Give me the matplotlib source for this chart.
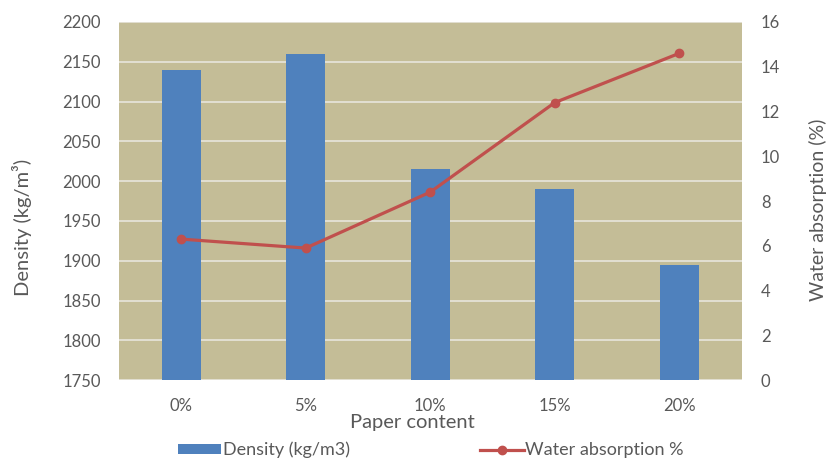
import matplotlib
matplotlib.use("Agg")
from matplotlib import pyplot as plt
import numpy as np

# values
categories = ["0%", "5%", "10%", "15%", "20%"]
density = [2140, 2160, 2015, 1990, 1895]          # kg/m3, left axis
water_abs = [6.3, 5.9, 8.4, 12.4, 14.6]           # %, right axis
density_ticks = list(range(1750, 2201, 50))
water_ticks = list(range(0, 17, 2))

plt.rcParams['font.family'] = ['Lato', 'DejaVu Sans']

bg = '#C4BD97'
blue = '#4F81BD'
red = '#C0504D'
grey = '#595959'

fig = plt.figure(figsize=(8.29, 4.63), dpi=100)
ax = fig.add_axes([0.1435, 0.179, 0.751, 0.7735])
ax.set_facecolor(bg)

x = np.arange(len(categories))
bars = ax.bar(x, density, width=0.31, color=blue, zorder=2, label='Density (kg/m3)')
ax.set_ylim(1750, 2200)
ax.set_xlim(-0.5, len(categories) - 0.5)
ax.set_yticks(density_ticks)
ax.yaxis.grid(True, color='#E2DFD2', linewidth=1.4, zorder=1)
ax.set_axisbelow(True)
ax.set_xticks(x)
ax.set_xticklabels(categories)
ax.tick_params(axis='both', length=0, labelsize=12, colors=grey)
ax.tick_params(axis='y', pad=13)
ax.tick_params(axis='x', pad=13)
ax.set_xlabel('Paper content', fontsize=14.5, color=grey, va='center')
ax.xaxis.set_label_coords(0.471, -0.117)
ax.set_ylabel('Density (kg/m³)', fontsize=14.5, color=grey, va='center')
ax.yaxis.set_label_coords(-0.156, 0.425)
for s in ax.spines.values():
    s.set_visible(False)

ax2 = ax.twinx()
line, = ax2.plot(x, water_abs, color=red, linewidth=2.3, marker='o', markersize=6,
                 label='Water absorption %', zorder=3)
ax2.set_ylim(0, 16)
ax2.set_yticks(water_ticks)
ax2.tick_params(axis='y', length=0, labelsize=12, colors=grey, pad=14)
ax2.set_ylabel('Water absorption (%)', fontsize=14, color=grey, va='center')
ax2.yaxis.set_label_coords(1.122, 0.475)
for s in ax2.spines.values():
    s.set_visible(False)

leg = fig.legend([bars, line], ['Density (kg/m3)', 'Water absorption %'],
                 loc='center', bbox_to_anchor=(431 / 829, 1 - 450 / 463), ncol=2,
                 frameon=False, fontsize=13, handlelength=2.4, handletextpad=0.1,
                 columnspacing=7.2, handleheight=0.45)
for t in leg.get_texts():
    t.set_color(grey)

fig.savefig('out.png', dpi=100, facecolor='white')
